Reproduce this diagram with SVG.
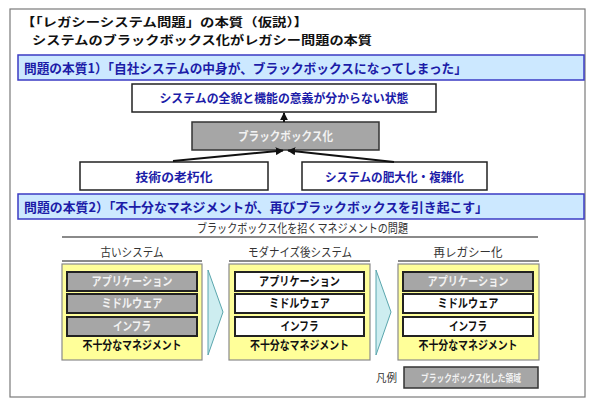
<svg xmlns="http://www.w3.org/2000/svg" width="593" height="401" viewBox="0 0 593 401">
<defs>
<style>
text{font-family:"Noto Sans CJK JP","Noto Sans",sans-serif;}
.b{font-weight:bold;}
.title{font-size:12px;font-weight:bold;fill:#111;}
.bar{fill:#cce8ff;stroke:#3b3bc4;stroke-width:1.5;}
.bartext{font-size:13px;font-weight:bold;fill:#1c1ca8;}
.node{fill:#fff;stroke:#222;stroke-width:1.5;}
.bbox{fill:#a6a6a6;stroke:#333;stroke-width:1.5;}
.ntext{font-size:12px;font-weight:bold;fill:#1c1ca8;text-anchor:middle;}
.wtext{font-size:12px;font-weight:bold;fill:#f2f2f2;text-anchor:middle;}
.ktext{font-size:12px;font-weight:bold;fill:#111;text-anchor:middle;}
.col{fill:#ffff99;stroke:#8a8a8a;stroke-width:1.2;}
.layer-g{fill:#a6a6a6;stroke:#222;stroke-width:2;}
.layer-w{fill:#fff;stroke:#222;stroke-width:2;}
.hdr{font-size:12px;fill:#333;text-anchor:middle;}
.uline{stroke:#8a8a8a;stroke-width:2;}
.chev{fill:#cdedf0;stroke:#5aa6ad;stroke-width:1;}
.conn{stroke:#111;stroke-width:2;fill:none;marker-end:url(#ah);}
</style>
<marker id="ah" viewBox="0 0 10 10" refX="9" refY="5" markerWidth="4" markerHeight="4" orient="auto-start-reverse" markerUnits="strokeWidth">
<path d="M0,0 L10,5 L0,10 z" fill="#111"/>
</marker>
</defs>
<rect x="0" y="0" width="593" height="401" fill="#fff"/>
<rect x="10" y="9" width="575" height="388" fill="#fff" stroke="#7a7a7a" stroke-width="1.2"/>

<g id="title">
<text class="title" x="21" y="26.5" textLength="287" lengthAdjust="spacingAndGlyphs">【「レガシーシステム問題」の本質（仮説）】</text>
<text class="title" x="32" y="44.5" textLength="340" lengthAdjust="spacingAndGlyphs">システムのブラックボックス化がレガシー問題の本質</text>
</g>

<g id="bar1">
<rect class="bar" x="18" y="55" width="566" height="25"/>
<text class="bartext" x="24" y="73" textLength="443" lengthAdjust="spacingAndGlyphs">問題の本質1）「自社システムの中身が、ブラックボックスになってしまった」</text>
</g>

<g id="node-state">
<rect class="node" x="132" y="84" width="304" height="28"/>
<text class="ntext" x="284" y="103" textLength="249" lengthAdjust="spacingAndGlyphs">システムの全貌と機能の意義が分からない状態</text>
</g>
<g id="node-blackbox">
<rect class="bbox" x="192" y="122" width="187" height="28"/>
<text class="wtext" x="285.5" y="141" textLength="95" lengthAdjust="spacingAndGlyphs">ブラックボックス化</text>
</g>
<g id="node-aging">
<rect class="node" x="80" y="162" width="188" height="28"/>
<text class="ntext" x="174" y="182" textLength="77" lengthAdjust="spacingAndGlyphs">技術の老朽化</text>
</g>
<g id="node-bloat">
<rect class="node" x="302" y="162" width="185" height="28"/>
<text class="ntext" x="394.5" y="182" textLength="139" lengthAdjust="spacingAndGlyphs">システムの肥大化・複雑化</text>
</g>

<g id="connectors">
<path class="conn" d="M284,122 L284,113"/>
<path class="conn" d="M173,161 L283,150.5"/>
<path class="conn" d="M394,162 L288,150.5"/>
</g>

<g id="bar2">
<rect class="bar" x="18" y="194" width="566" height="25"/>
<text class="bartext" x="24" y="212" textLength="464" lengthAdjust="spacingAndGlyphs">問題の本質2）「不十分なマネジメントが、再びブラックボックスを引き起こす」</text>
</g>

<g id="subtitle">
<text class="hdr" x="302.5" y="233" textLength="211" lengthAdjust="spacingAndGlyphs">ブラックボックス化を招くマネジメントの問題</text>
<line class="uline" x1="62" y1="237" x2="538" y2="237"/>
</g>

<g id="col-old">
<text class="hdr" x="132" y="257" textLength="63" lengthAdjust="spacingAndGlyphs">古いシステム</text>
<line class="uline" x1="62" y1="261" x2="202" y2="261"/>
<rect class="col" x="62" y="264" width="140" height="96"/>
<rect class="layer-g" x="67" y="272" width="130" height="19"/>
<text class="wtext" x="132" y="286" textLength="81" lengthAdjust="spacingAndGlyphs">アプリケーション</text>
<rect class="layer-g" x="67" y="294" width="130" height="19"/>
<text class="wtext" x="132" y="308" textLength="61" lengthAdjust="spacingAndGlyphs">ミドルウェア</text>
<rect class="layer-g" x="67" y="317" width="130" height="19"/>
<text class="wtext" x="132" y="331" textLength="38" lengthAdjust="spacingAndGlyphs">インフラ</text>
<text class="ktext" x="132" y="350" textLength="99" lengthAdjust="spacingAndGlyphs">不十分なマネジメント</text>
</g>

<g id="arrow1">
<path class="chev" d="M208,270 L223,312 L208,355 Z"/>
</g>

<g id="col-modern">
<text class="hdr" x="300" y="257" textLength="104" lengthAdjust="spacingAndGlyphs">モダナイズ後システム</text>
<line class="uline" x1="229" y1="261" x2="370" y2="261"/>
<rect class="col" x="229" y="264" width="141" height="96"/>
<rect class="layer-w" x="235" y="272" width="129" height="19"/>
<text class="ktext" x="299.5" y="286" textLength="81" lengthAdjust="spacingAndGlyphs">アプリケーション</text>
<rect class="layer-w" x="235" y="294" width="129" height="19"/>
<text class="ktext" x="299.5" y="308" textLength="61" lengthAdjust="spacingAndGlyphs">ミドルウェア</text>
<rect class="layer-w" x="235" y="317" width="129" height="19"/>
<text class="ktext" x="299.5" y="331" textLength="38" lengthAdjust="spacingAndGlyphs">インフラ</text>
<text class="ktext" x="299.5" y="350" textLength="99" lengthAdjust="spacingAndGlyphs">不十分なマネジメント</text>
</g>

<g id="arrow2">
<path class="chev" d="M376,270 L391,312 L376,355 Z"/>
</g>

<g id="col-relegacy">
<text class="hdr" x="468" y="257" textLength="69" lengthAdjust="spacingAndGlyphs">再レガシー化</text>
<line class="uline" x1="398" y1="261" x2="539" y2="261"/>
<rect class="col" x="398" y="264" width="141" height="96"/>
<rect class="layer-g" x="403" y="272" width="130" height="19"/>
<text class="wtext" x="468" y="286" textLength="81" lengthAdjust="spacingAndGlyphs">アプリケーション</text>
<rect class="layer-w" x="403" y="294" width="130" height="19"/>
<text class="ktext" x="468" y="308" textLength="61" lengthAdjust="spacingAndGlyphs">ミドルウェア</text>
<rect class="layer-w" x="403" y="317" width="130" height="19"/>
<text class="ktext" x="468" y="331" textLength="38" lengthAdjust="spacingAndGlyphs">インフラ</text>
<text class="ktext" x="468" y="350" textLength="99" lengthAdjust="spacingAndGlyphs">不十分なマネジメント</text>
</g>

<g id="legend">
<text x="376" y="382" style="font-size:11px;fill:#333;" textLength="21" lengthAdjust="spacingAndGlyphs">凡例</text>
<rect class="bbox" x="404" y="367" width="134" height="21"/>
<text class="wtext" x="471" y="382" style="font-size:10px;" textLength="100" lengthAdjust="spacingAndGlyphs">ブラックボックス化した領域</text>
</g>
</svg>
